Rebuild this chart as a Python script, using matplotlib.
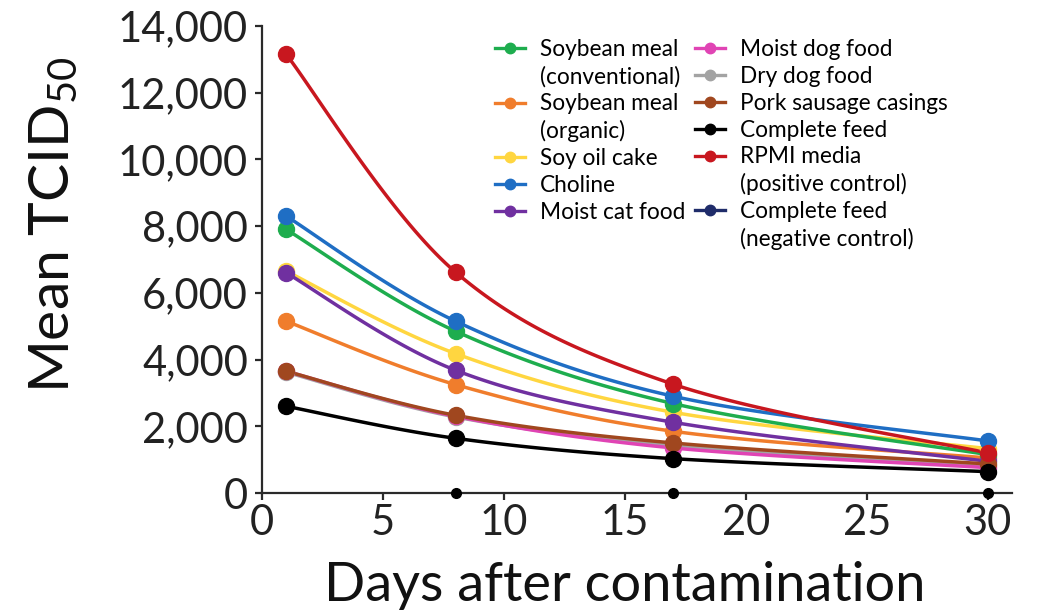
import numpy as np
import matplotlib
matplotlib.use("Agg")
import matplotlib.pyplot as plt
from matplotlib.lines import Line2D
from matplotlib.ticker import FuncFormatter

plt.rcParams['font.family'] = ['Lato', 'DejaVu Sans']
plt.rcParams['mathtext.fontset'] = 'custom'
plt.rcParams['mathtext.rm'] = 'Lato'
plt.rcParams['mathtext.it'] = 'Lato'

days = [1, 8, 17, 30]

soy_conv = [7900, 4850, 2680, 1150]
soy_org = [5150, 3250, 1850, 1050]
soy_oil = [6650, 4180, 2420, 1330]
choline = [8300, 5150, 2900, 1560]
cat_food = [6600, 3680, 2120, 950]
moist_dog = [3650, 2300, 1350, 760]
dry_dog = [3620, 2280, 1420, 820]
casings = [3650, 2330, 1500, 870]
complete = [2600, 1640, 1030, 640]
rpmi = [13150, 6620, 3260, 1200]
negative = [np.nan, 0, 0, 0]

labels = [
    "Soybean meal\n(conventional)", "Soybean meal\n(organic)", "Soy oil cake",
    "Choline", "Moist cat food", "Moist dog food", "Dry dog food",
    "Pork sausage casings", "Complete feed", "RPMI media\n(positive control)",
    "Complete feed\n(negative control)",
]
series = [soy_conv, soy_org, soy_oil, choline, cat_food, moist_dog, dry_dog,
          casings, complete, rpmi, negative]
colors = ["#1EAD4E", "#F07D2C", "#FFD640", "#1F6EC4", "#7030A0", "#E044B4",
          "#A3A3A3", "#A0471F", "#000000", "#C8171F", "#1F2C6A"]
# drawing order (later = on top)
draw_order = [6, 5, 1, 2, 0, 3, 4, 7, 8, 9, 10]


def smooth(x, y, n=40):
    """Catmull-Rom style Bezier smoothing through the points."""
    x = np.asarray(x, float)
    y = np.asarray(y, float)
    pts = np.column_stack([x, y])
    out = []
    for i in range(len(pts) - 1):
        p0 = pts[i - 1] if i > 0 else pts[i]
        p1 = pts[i]
        p2 = pts[i + 1]
        p3 = pts[i + 2] if i + 2 < len(pts) else pts[i + 1]
        c1 = p1 + (p2 - p0) / 6.0
        c2 = p2 - (p3 - p1) / 6.0
        t = np.linspace(0, 1, n)[:, None]
        seg = ((1 - t) ** 3) * p1 + 3 * ((1 - t) ** 2) * t * c1 + \
            3 * (1 - t) * t ** 2 * c2 + t ** 3 * p2
        out.append(seg if i == 0 else seg[1:])
    s = np.vstack(out)
    return s[:, 0], s[:, 1]


fig = plt.figure(figsize=(10.38, 6.10), dpi=100)
ax = fig.add_axes([0.2524, 0.1918, 0.7226, 0.7656])

for k in draw_order:
    y = np.asarray(series[k], float)
    mask = ~np.isnan(y)
    xs = np.asarray(days, float)[mask]
    ys = y[mask]
    if k == 10:
        # negative control sits on the baseline, under the axis line
        ax.plot(xs, ys, color=colors[k], lw=1.4, zorder=2, clip_on=False)
        ax.plot(xs, ys, 'o', color="#000000", ms=7, zorder=4, clip_on=False)
        continue
    sx, sy = smooth(xs, ys)
    ax.plot(sx, sy, color=colors[k], lw=2.5, zorder=3, solid_capstyle='round')
    ax.plot(xs, ys, 'o', color=colors[k], ms=11.5, zorder=3.5, clip_on=False)

ax.set_xlim(0, 31)
ax.set_ylim(0, 14000)
ax.set_xticks([0, 5, 10, 15, 20, 25, 30])
ax.set_yticks(np.arange(0, 14001, 2000))
ax.yaxis.set_major_formatter(FuncFormatter(lambda v, p: f"{int(v):,}"))

for side in ("top", "right"):
    ax.spines[side].set_visible(False)
for side in ("left", "bottom"):
    ax.spines[side].set_linewidth(1.6)
    ax.spines[side].set_color("#2a2a2a")
ax.tick_params(axis='both', labelsize=30, width=1.6, length=5, color="#2a2a2a",
               labelcolor="#222222")
ax.tick_params(axis='y', pad=5)
ax.tick_params(axis='x', pad=3)

ax.set_xlabel("Days after contamination", fontsize=39, color="#111111")
ax.set_ylabel("Mean TCID$_{50}$", fontsize=41, color="#111111")
ax.xaxis.set_label_coords(0.484, -0.198)
ax.yaxis.set_label_coords(-0.278, 0.575)
ax.xaxis.label.set_va('center')
ax.yaxis.label.set_va('center')

# Legend: one row per text line, handle on the first line of each entry
blank = Line2D([], [], color='none')
rows_h, rows_t = [], []
for k, lab in enumerate(labels):
    parts = lab.split("\n")
    rows_h.append(Line2D([], [], color=colors[k], lw=2.4, marker='o', ms=7.5))
    rows_t.append(parts[0])
    for extra in parts[1:]:
        rows_h.append(blank)
        rows_t.append(extra)
# first column: first five entries (7 lines), padded to 8 lines
split = 7
col1_h, col1_t = rows_h[:split] + [blank], rows_t[:split] + [""]
col2_h, col2_t = rows_h[split:], rows_t[split:]
leg = fig.legend(col1_h + col2_h, col1_t + col2_t, ncol=2, loc='upper left',
                 bbox_to_anchor=(0.4655, 0.954), frameon=False, fontsize=16.3,
                 handlelength=1.33, handletextpad=0.66, columnspacing=0.45,
                 labelspacing=0.255, borderpad=0.0)

fig.savefig("out.png", dpi=100)
